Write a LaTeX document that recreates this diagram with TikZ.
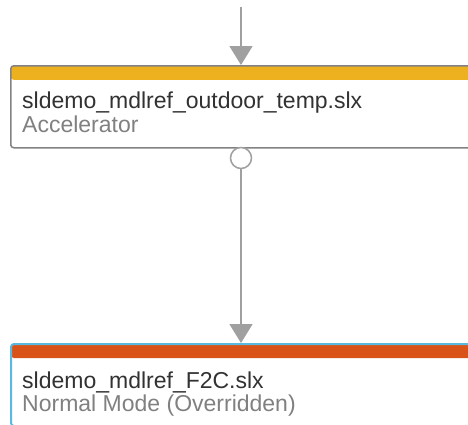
\documentclass[tikz,border=0pt]{standalone}
\usepackage{fontspec}
\setmainfont{Liberation Sans}
\usepackage{xcolor}
\usetikzlibrary{arrows.meta, positioning, calc}

\definecolor{accbar}{RGB}{237,177,32}
\definecolor{normbar}{RGB}{217,83,25}
\definecolor{boxline}{RGB}{130,130,130}
\definecolor{selline}{RGB}{90,185,225}
\definecolor{wire}{RGB}{160,160,160}
\definecolor{nametext}{RGB}{50,50,50}
\definecolor{modetext}{RGB}{128,128,128}

\begin{document}
\begin{tikzpicture}[x=1pt, y=1pt,
    modelbox/.style={draw=boxline, line width=1.5pt, rounded corners=3pt, fill=white,
        minimum width=480pt, minimum height=82pt, anchor=north west, inner sep=0pt,
        path picture={\fill[#1] (path picture bounding box.north west)
            rectangle ([yshift=-14pt]path picture bounding box.north east);}},
    namelabel/.style={anchor=base west, inner sep=0pt, text=nametext,
        font=\fontsize{23}{24}\selectfont},
    modelabel/.style={anchor=base west, inner sep=0pt, text=modetext,
        font=\fontsize{23}{24}\selectfont},
    port/.style={circle, draw=wire, line width=1.5pt, fill=white, minimum size=21pt, inner sep=0pt},
    link/.style={draw=wire, line width=1.5pt, -{Triangle[length=19pt, width=23pt]}}
]
\clip (0,0) rectangle (468,-424);

% Boxes
\node[modelbox=accbar] (outdoor) at (10,-65) {};
\node[modelbox=normbar, draw=selline, line width=2pt] (ftoc) at (10,-343) {};

% Labels
\node[namelabel] (outdoorname) at ([shift={(12,-43)}]outdoor.north west) {sldemo\_mdlref\_outdoor\_temp.slx};
\node[modelabel] (outdoormode) at ([yshift=-24]outdoorname.base west) {Accelerator};
\node[namelabel] (ftocname) at ([shift={(12,-45)}]ftoc.north west) {sldemo\_mdlref\_F2C.slx};
\node[modelabel] (ftocmode) at ([yshift=-23]ftocname.base west) {Normal Mode (Overridden)};

% Ports and arrows
\coordinate (src) at (241,-7);
\node[port] (outport) at (241,-158) {};
\draw[link] (src) -- (src |- outdoor.north);
\draw[link] (outport.south) -- (outport.south |- ftoc.north);

\end{tikzpicture}
\end{document}
